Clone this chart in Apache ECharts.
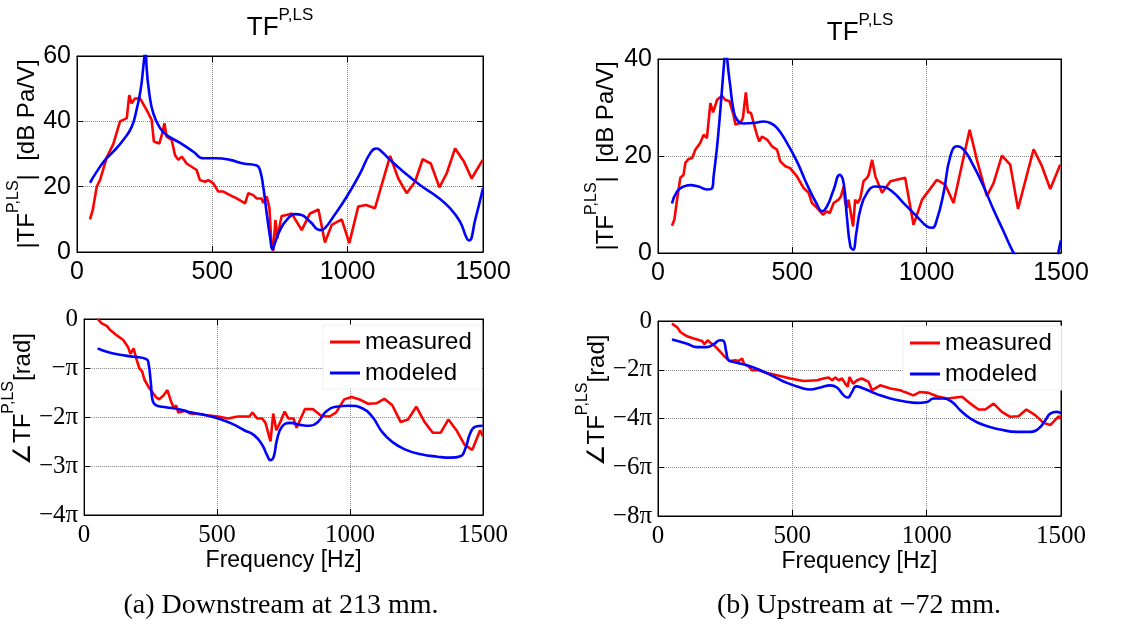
<!DOCTYPE html>
<html>
<head>
<meta charset="utf-8">
<script src="https://cdn.jsdelivr.net/npm/echarts@6/dist/echarts.min.js"></script>
<style>
html,body{margin:0;padding:0;background:#fff;}
#chart{width:1141px;height:633px;}
</style>
</head>
<body>
<div id="chart"></div>
<script>
// ---------- Data (a) Downstream at 213 mm ----------
const freqMagMeasA = [48,58,73,85,110,134,159,184,193,202,214,233,257,276,284,304,315,323,331,350,362,374,387,405,442,454,473,485,504,522,541,565,590,621,633,651,664,682,688,701,711,719,725,733,740,747,756,775,793,830,861,892,916,941,978,1006,1039,1068,1101,1129,1157,1187,1218,1249,1277,1307,1339,1366,1397,1430,1458,1499];
const magMeasA = [10.0,12.8,20,22,29,33,40,41,48,45.5,47,47,43.5,40.4,33.8,33.2,36.3,39.4,35.3,34.3,29.7,28.2,29.2,27.1,25.1,22,21.5,22,21,18.5,18.5,17.4,16.4,14.9,18,17.4,16.4,16.4,15,17,13.4,1.6,0.4,9.8,4.2,7.3,11,11.3,11.8,6.7,11.8,13,2.9,8.3,10,2.7,13.9,14.4,13.4,21.5,29.4,22.5,18,21.5,28.4,27.1,19.8,24.1,31.7,27.6,22.5,28.2];
const freqMagModA = [48,73,104,134,171,202,220,235,245,251,253,255,257,267,282,307,331,381,430,467,516,565,614,664,676,688,701,713,723,731,750,775,805,830,861,898,916,947,997,1046,1083,1107,1126,1157,1206,1267,1329,1378,1415,1440,1449,1471,1500];
const magModA = [21.2,24.6,28.2,30.7,34.3,38.3,43.5,49.6,56.7,62,66,62,56.7,48.6,42.4,37.9,35.8,33.4,30.7,28.7,28.7,28.2,27.1,26.5,25.1,20,11.8,4.7,0.8,2.7,6.7,9.8,11.6,11.3,9.3,6.7,7.3,10.8,17,24.1,30.2,31.7,30.7,28.2,24.6,20.5,17,13.4,9.3,4.2,3.5,9.8,19.5];
// phase in units of pi
const freqPhMeasA = [51,66,85,97,122,147,165,174,186,198,208,218,227,245,270,282,300,313,325,337,346,354,381,399,430,454,504,541,578,621,633,651,670,682,701,711,723,738,754,768,787,799,830,861,892,923,947,978,1006,1039,1068,1099,1129,1159,1190,1218,1249,1280,1311,1341,1370,1400,1431,1460,1489,1499];
const phMeasA = [0.0,-0.09,-0.14,-0.22,-0.33,-0.43,-0.57,-0.71,-0.60,-0.84,-1.01,-1.07,-1.24,-1.41,-1.59,-1.64,-1.55,-1.45,-1.65,-1.82,-1.76,-1.91,-1.87,-1.93,-1.94,-1.96,-1.99,-2.03,-1.99,-1.99,-1.91,-2.03,-2.03,-2.12,-2.50,-1.93,-2.27,-2.10,-1.89,-2.03,-2.03,-2.22,-1.84,-1.84,-1.98,-1.99,-1.91,-1.64,-1.59,-1.65,-1.73,-1.72,-1.63,-1.76,-2.10,-2.05,-1.79,-2.10,-2.32,-2.32,-2.05,-2.27,-2.57,-2.67,-2.27,-2.39];
const freqPhModA = [51,85,134,186,235,242,251,257,270,307,356,405,454,504,553,602,639,670,688,701,713,725,744,775,812,849,879,910,947,997,1046,1083,1120,1157,1206,1267,1329,1378,1415,1434,1452,1471,1499];
const phModA = [-0.60,-0.67,-0.73,-0.77,-0.82,-0.90,-1.31,-1.65,-1.76,-1.80,-1.84,-1.91,-1.96,-2.03,-2.13,-2.27,-2.37,-2.57,-2.78,-2.88,-2.81,-2.47,-2.20,-2.12,-2.16,-2.18,-2.10,-1.89,-1.79,-1.77,-1.82,-1.99,-2.30,-2.50,-2.66,-2.76,-2.81,-2.83,-2.80,-2.64,-2.33,-2.20,-2.18];

// ---------- Data (b) Upstream at -72 mm ----------
const freqMagMeasB = [52,61,71,83,95,102,114,127,139,157,170,182,188,195,205,220,238,250,266,281,288,306,316,327,335,346,356,368,377,387,406,424,443,455,474,492,517,542,561,573,592,614,629,639,654,672,681,691,697,703,709,716,726,734,743,753,765,778,784,797,809,834,865,920,951,983,1038,1069,1100,1160,1187,1224,1249,1280,1311,1340,1398,1429,1460,1497];
const magMeasB = [5.6,6.9,11,15.5,16.1,18.6,19.4,19.6,21.3,22.7,24.4,23.7,24.0,30.9,29,31.6,32.4,31.6,31.3,28.5,26.5,26.8,27.8,33.1,29,28.9,26.8,24.4,23,24.0,23.4,22,21.3,18.9,17.9,17.5,15.8,13.4,12.4,10.3,9.3,7.9,8.6,8.2,10.3,11,11.7,13.7,10.3,9.3,11,10.6,5.5,11,10.3,11.3,14.8,15.5,16.1,19.2,15.8,12.4,14.8,15.5,5.8,11,15.1,14.1,10.3,25.4,19.2,11.7,14.4,20.1,18.2,9.1,21.4,17.9,13.2,18.2];
const freqMagModB = [52,71,95,120,151,182,202,207,220,232,242,247,253,259,269,281,294,319,356,393,418,443,480,517,555,592,610,629,654,676,691,703,716,726,738,753,778,809,840,877,914,964,1001,1020,1038,1063,1088,1113,1138,1175,1212,1249,1286,1321,1340,1380,1420,1450,1475,1490,1500];
const magModB = [10.2,12.7,13.7,14.0,13.7,13.1,13.4,15.8,22,29.5,36.4,39.9,44,39.2,34.4,29.5,27.5,26.7,26.8,27.1,26.8,25.8,22.7,18.9,14.1,10,8.6,9.6,13.1,16.1,14.4,7.5,1.4,0.7,4.1,8.9,12.4,13.7,13.6,12.4,10.3,7.5,5.5,5.2,6.9,12.4,19.9,22,21.3,17.9,13.7,8.9,4.5,0.3,-1.2,-6,-10,-9,-6,0,2.6];
const freqPhMeasB = [52,73,83,108,133,164,173,185,201,213,232,250,266,288,300,313,321,337,350,374,406,443,492,542,592,616,635,648,660,672,685,697,706,713,726,741,759,784,797,827,865,902,951,976,1007,1038,1076,1132,1163,1193,1218,1249,1280,1311,1342,1371,1404,1435,1460,1491,1500];
const phMeasB = [-0.11,-0.27,-0.45,-0.63,-0.72,-0.82,-0.95,-0.79,-0.95,-1.04,-1.27,-1.48,-1.64,-1.61,-1.64,-1.54,-1.77,-1.86,-2.02,-2.02,-2.13,-2.23,-2.36,-2.46,-2.43,-2.36,-2.32,-2.43,-2.32,-2.43,-2.36,-2.57,-2.70,-2.30,-2.57,-2.43,-2.36,-2.50,-2.84,-2.64,-2.77,-2.84,-3.05,-2.91,-2.95,-3.09,-3.18,-3.11,-3.39,-3.63,-3.63,-3.39,-3.73,-3.93,-3.91,-3.63,-3.86,-4.18,-4.27,-3.91,-4.0];
const freqPhModB = [52,108,145,182,207,232,244,254,263,281,331,381,430,480,530,567,604,641,666,691,706,722,738,765,815,865,914,964,1001,1026,1063,1094,1125,1163,1212,1274,1336,1386,1417,1442,1460,1485,1500];
const phModB = [-0.76,-0.93,-1.07,-1.07,-0.95,-0.79,-0.82,-1.27,-1.61,-1.68,-1.82,-2.02,-2.27,-2.54,-2.73,-2.81,-2.73,-2.64,-2.73,-3.05,-3.14,-2.91,-2.68,-2.77,-3.0,-3.18,-3.29,-3.36,-3.32,-3.18,-3.18,-3.32,-3.66,-4.0,-4.27,-4.45,-4.55,-4.55,-4.41,-4.07,-3.80,-3.73,-3.80];

// ---------- Tick labels ----------
const phaseTicksA = ['\u22124\u03C0','\u22123\u03C0','\u22122\u03C0','\u2212\u03C0','0'];        // values -4..0 (step 1)
const phaseTicksB = ['\u22128\u03C0','\u22126\u03C0','\u22124\u03C0','\u22122\u03C0','0'];        // values -8..0 (step 2)
const seriesNames = ['measured','modeled'];
const captionA = '(a) Downstream at 213 mm.';
const captionB = '(b) Upstream at \u221272 mm.';

const SANS = 'Liberation Sans';
const SERIF = 'Liberation Serif';
const RED = '#ff0000', BLUE = '#0000ff';

function zip(xs, ys){ return xs.map((x,i)=>[x, ys[i]]); }

const grids = [
  {left:77, top:56, width:406, height:196},
  {left:77, top:319, width:406, height:196},
  {left:658, top:59, width:403, height:194},
  {left:658, top:321, width:403, height:195}
];

function mainX(g, serif, showName){
  return {
    gridIndex:g, type:'value', min:0, max:1500, interval:500, position:'bottom',
    axisLine:{show:true, onZero:false, lineStyle:{color:'#000', width:1}},
    axisTick:{show:true, inside:true, length:6, lineStyle:{color:'#000'}},
    axisLabel:{color:'#000', fontFamily: serif?SERIF:SANS, fontSize:25, margin:8, formatter:v=>String(v)},
    splitLine:{show:true, lineStyle:{type:'dotted', color:'#8a8a8a', width:1}},
    name: showName ? 'Frequency [Hz]' : '',
    nameLocation:'middle', nameGap:33,
    nameTextStyle:{color:'#000', fontFamily:SANS, fontSize:23}
  };
}
function mirrorX(g){
  return {
    gridIndex:g, type:'value', min:0, max:1500, interval:500, position:'top',
    axisLine:{show:true, onZero:false, lineStyle:{color:'#000', width:1}},
    axisTick:{show:true, inside:true, length:6, lineStyle:{color:'#000'}},
    axisLabel:{show:false}, splitLine:{show:false}
  };
}
const supRich = (fs, family) => ({
  a:{fontSize:fs, fontFamily:family, color:'#000', lineHeight:34, verticalAlign:'bottom'},
  s:{fontSize:16, fontFamily:SANS, color:'#000', lineHeight:16, verticalAlign:'top'}
});
function mainY(g, opts){
  return Object.assign({
    gridIndex:g, type:'value', position:'left',
    axisLine:{show:true, onZero:false, lineStyle:{color:'#000', width:1}},
    axisTick:{show:true, inside:true, length:6, lineStyle:{color:'#000'}},
    splitLine:{show:true, lineStyle:{type:'dotted', color:'#8a8a8a', width:1}},
    nameLocation:'middle', nameRotate:90
  }, opts);
}
function mirrorY(g, min, max, interval){
  return {
    gridIndex:g, type:'value', min, max, interval, position:'right',
    axisLine:{show:true, onZero:false, lineStyle:{color:'#000', width:1}},
    axisTick:{show:true, inside:true, length:6, lineStyle:{color:'#000'}},
    axisLabel:{show:false}, splitLine:{show:false}
  };
}

const magName = '{a||TF}{s|P,LS}{a||  [dB Pa/V]}';
const phName = '{a|\u2220TF}{s|P,LS}{a|[rad]}';

const xAxes = [mainX(0,false,false), mainX(1,true,true), mainX(2,false,false), mainX(3,true,true),
               mirrorX(0), mirrorX(1), mirrorX(2), mirrorX(3)];
const yAxes = [
  mainY(0,{min:0,max:60,interval:20, axisLabel:{color:'#000',fontFamily:SANS,fontSize:25,margin:6},
    name:magName, nameGap:36, nameTextStyle:{rich:supRich(24,SANS)}}),
  mainY(1,{min:-4,max:0,interval:1, axisLabel:{color:'#000',fontFamily:SERIF,fontSize:25,margin:6,
      formatter:v=>phaseTicksA[Math.round(v+4)]},
    name:phName, nameGap:30, nameTextStyle:{rich:supRich(24,SANS), padding:[0,0,0,36]}}),
  mainY(2,{min:0,max:40,interval:20, axisLabel:{color:'#000',fontFamily:SANS,fontSize:25,margin:6},
    name:magName, nameGap:40, nameTextStyle:{rich:supRich(24,SANS)}}),
  mainY(3,{min:-8,max:0,interval:2, axisLabel:{color:'#000',fontFamily:SERIF,fontSize:25,margin:6,
      formatter:v=>phaseTicksB[Math.round((v+8)/2)]},
    name:phName, nameGap:40, nameTextStyle:{rich:supRich(24,SANS), padding:[0,0,0,36]}}),
  mirrorY(0,0,60,20), mirrorY(1,-4,0,1), mirrorY(2,0,40,20), mirrorY(3,-8,0,2)
];

function line(name, g, xs, ys, color, smooth){
  return {
    name, type:'line', xAxisIndex:g, yAxisIndex:g, data:zip(xs,ys),
    showSymbol:false, symbol:'none', color, smooth: smooth?0.5:false,
    lineStyle:{color, width:2.6}, clip:true, animation:false, z:3
  };
}

const series = [
  line(seriesNames[0],0,freqMagMeasA,magMeasA,RED,false),
  line(seriesNames[1],0,freqMagModA,magModA,BLUE,true),
  line(seriesNames[0],1,freqPhMeasA,phMeasA,RED,false),
  line(seriesNames[1],1,freqPhModA,phModA,BLUE,true),
  line(seriesNames[0],2,freqMagMeasB,magMeasB,RED,false),
  line(seriesNames[1],2,freqMagModB,magModB,BLUE,true),
  line(seriesNames[0],3,freqPhMeasB,phMeasB,RED,false),
  line(seriesNames[1],3,freqPhModB,phModB,BLUE,true)
];

function legendAt(left, top){
  return {
    data:seriesNames, left, top, orient:'vertical', icon:'rect', itemWidth:30, itemHeight:3,
    itemGap:7, backgroundColor:'#fff', borderColor:'#eeeeee', borderWidth:1,
    padding:[5,10,4,7], selectedMode:false,
    textStyle:{color:'#000', fontFamily:SANS, fontSize:24, padding:[0,0,0,0]}
  };
}

const titleRich = {
  a:{fontSize:26, fontFamily:SANS, fill:'#000', lineHeight:34, verticalAlign:'bottom'},
  s:{fontSize:17, fontFamily:SANS, fill:'#000', lineHeight:17, verticalAlign:'top'}
};

const option = {
  animation:false,
  backgroundColor:'#fff',
  grid: grids.map(g=>Object.assign({show:true, borderColor:'#000', borderWidth:1, backgroundColor:'transparent', containLabel:false}, g)),
  xAxis: xAxes,
  yAxis: yAxes,
  legend: [legendAt(323,325), legendAt(903,326)],
  series,
  graphic: [
    {type:'text', x:280, y:24, style:{text:'{a|TF}{s|P,LS}', rich:titleRich, align:'center', verticalAlign:'middle'}},
    {type:'text', x:860, y:29, style:{text:'{a|TF}{s|P,LS}', rich:titleRich, align:'center', verticalAlign:'middle'}},
    {type:'text', x:281, y:606, style:{text:captionA, fontFamily:SERIF, fontSize:28, fill:'#000', align:'center', verticalAlign:'middle'}},
    {type:'text', x:859, y:606, style:{text:captionB, fontFamily:SERIF, fontSize:28, fill:'#000', align:'center', verticalAlign:'middle'}}
  ]
};

const chart = echarts.init(document.getElementById('chart'), null, {renderer:'canvas'});
chart.setOption(option);
</script>
</body>
</html>
